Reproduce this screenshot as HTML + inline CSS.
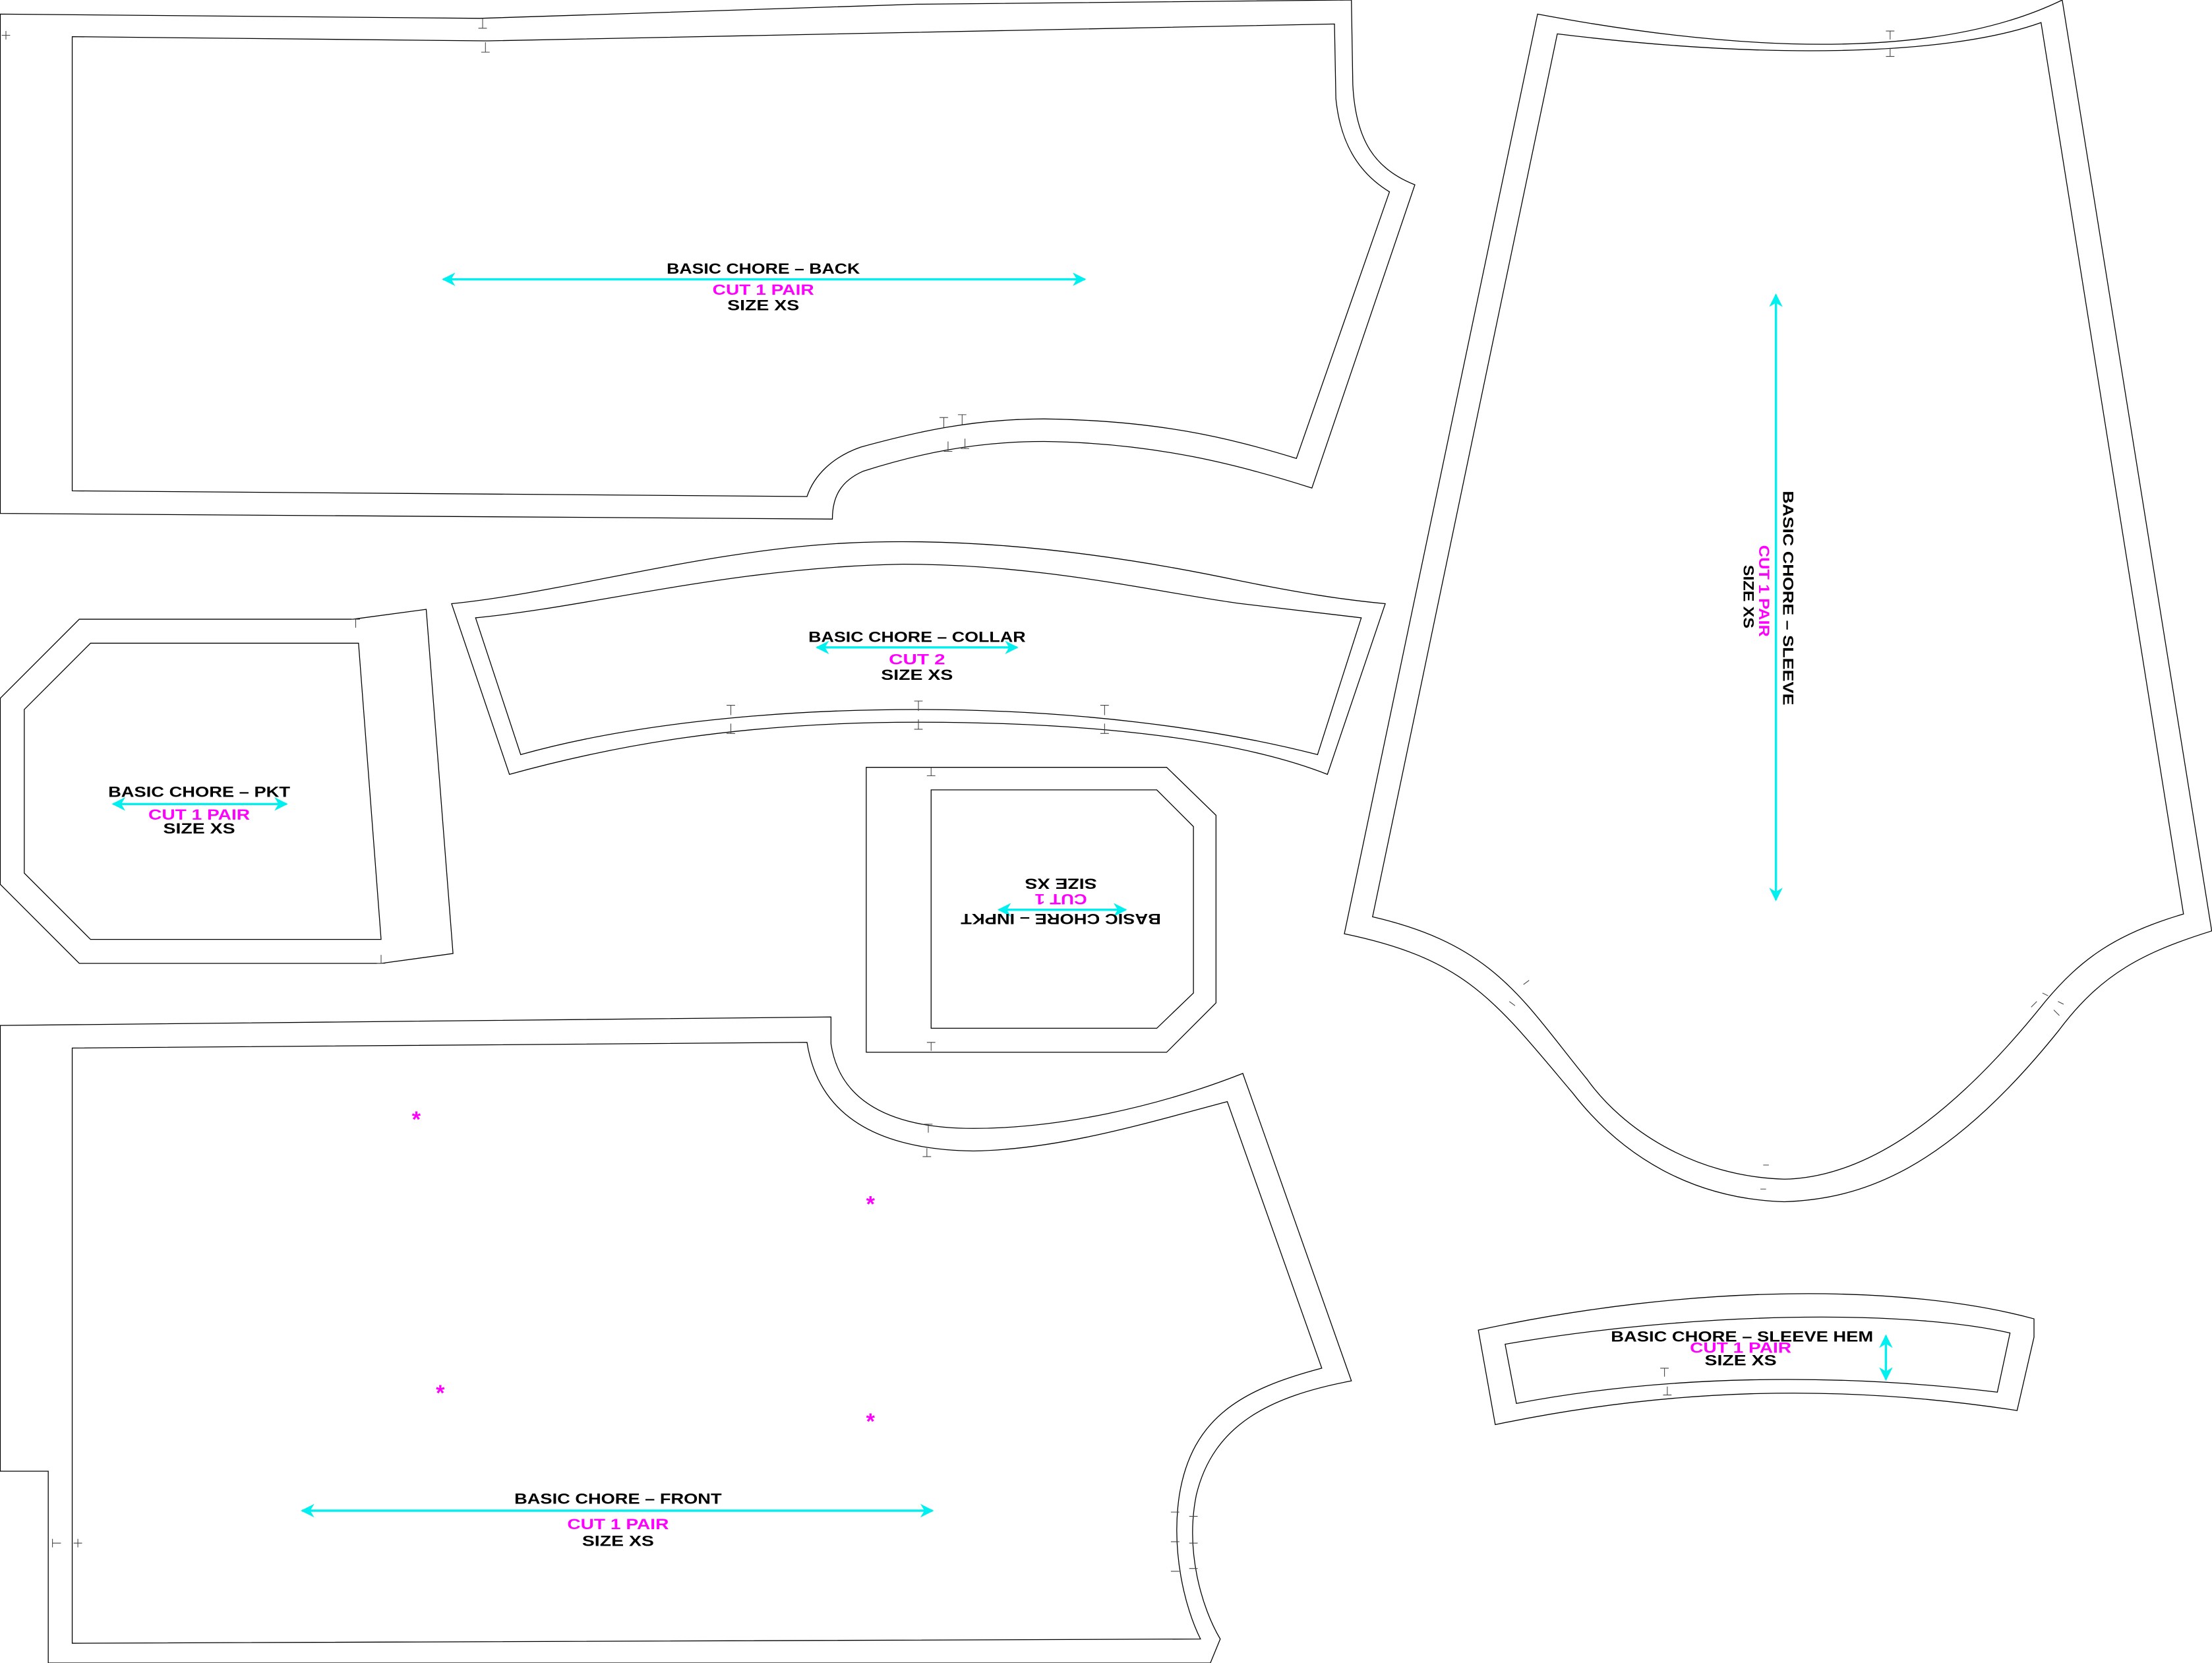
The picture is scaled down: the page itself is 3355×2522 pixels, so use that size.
<!DOCTYPE html>
<html><head><meta charset="utf-8"><style>
html,body{margin:0;padding:0;background:#fff;}
svg{display:block;}
text{font-family:"Liberation Sans",sans-serif;font-weight:bold;}
.t{fill:#000;font-size:10.5px;}
.m{fill:#f0f;font-size:10.5px;}
.c{fill:none;stroke:#000;stroke-width:0.6;}
.a{stroke:#00f0f0;stroke-width:1.6;fill:none;}
.n{stroke:#444;stroke-width:0.5;fill:none;}
</style></head><body>
<svg width="3355" height="2522" viewBox="0 0 1568 1179" xmlns="http://www.w3.org/2000/svg">
<defs>
<marker id="h" viewBox="0 0 10 10" refX="9" refY="5" markerWidth="6" markerHeight="6" orient="auto-start-reverse">
<path d="M0,0 L10,5 L0,10 L3,5 Z" fill="#00f0f0"/></marker>
</defs>
<!-- BACK -->
<path class="c" d="M0,10 L340,13 L650,3 L958,0 L959,60 C961,100 975,120 1003,131 L930,346 C880,330 820,314 740,313 C690,313 650,322 612,334 C596,341 590,352 590,368 L0,364 Z"/>
<path class="c" d="M51,26 L345,29 L946,17 L947,70 C950,100 962,122 985,136 L919,325 C870,310 820,298 740,297 C690,297 650,306 610,317 C590,324 577,337 572,352 L51,348 Z"/>
<!-- SLEEVE -->
<path class="c" d="M1090,10 C1250,40 1380,40 1462,0 L1568,660 C1520,675 1490,690 1460,730 C1380,830 1320,850 1265,852 C1200,850 1150,820 1115,775 C1060,710 1040,680 953,662 Z"/>
<path class="c" d="M1104,24 C1250,42 1380,40 1447,16 L1548,648 C1500,662 1475,680 1450,710 C1370,810 1310,835 1265,836 C1200,834 1150,800 1125,765 C1080,710 1060,670 973,650 Z"/>
<!-- COLLAR -->
<path class="c" d="M320,428 C400,420 500,390 600,385 C700,380 800,395 880,412 C920,420 950,425 982,428 L941,549 C880,525 780,512 650,512 C520,512 430,530 361,549 Z"/>
<path class="c" d="M337,438 C420,430 520,402 640,400 C740,400 820,420 880,428 L965,438 L934,535 C860,516 760,503 650,503 C540,503 440,515 369,535 Z"/>
<!-- PKT -->
<path class="c" d="M56,439 L250,439 L302,432 L321,676 L270,683 L56,683 L0,627 L0,495 Z"/>
<path class="c" d="M64,456 L254,456 L270,666 L64,666 L17,619 L17,503 Z"/>
<!-- INPKT -->
<path class="c" d="M614,544 L827,544 L862,578 L862,711 L827,746 L614,746 Z"/>
<path class="c" d="M660,560 L820,560 L846,586 L846,704 L820,729 L660,729 Z"/>
<!-- FRONT -->
<path class="c" d="M0,727 L589,721 L589,740 C595,780 630,800 690,800 C750,800 820,785 881,761 L958,979 C900,990 860,1010 848,1060 C840,1100 852,1140 865,1162 L858,1179 L34,1179 L34,1043 L0,1043 Z"/>
<path class="c" d="M51,743 L572,739 C580,790 620,815 690,816 C750,815 810,797 870,781 L937,970 C880,985 845,1005 836,1060 C830,1100 840,1140 851,1162 L51,1165 Z"/>
<!-- SLEEVE HEM -->
<path class="c" d="M1048,943 C1200,910 1350,910 1442,935 L1442,948 L1430,1000 C1300,980 1180,985 1060,1010 Z"/>
<path class="c" d="M1067,953 C1200,930 1350,928 1425,945 L1416,987 C1300,973 1180,975 1075,995 Z"/>
<!-- notches -->
<g class="n">
<path d="M342,13v7M339,20h6M344,30v7M341,37h6M1,25h6M4,22v6"/>
<path d="M669,296v7M666,296h6M682,294v7M679,294h6M672,313v7M669,320h6M684,311v7M681,318h6"/>
<path d="M1340,22v6M1337,22h6M1340,34v6M1337,40h6"/>
<path d="M518,500v7M515,500h6M651,497v7M648,497h6M783,500v7M780,500h6M518,513v7M515,520h6M651,510v7M648,517h6M783,513v7M780,520h6"/>
<path d="M252,439v6M249,439h6M270,677v6M267,683h6M660,544v6M657,550h6M660,739v6M657,739h6"/>
<path d="M658,797v6M655,797h6M657,814v6M654,820h6"/>
<path d="M37,1094h6M37,1091v6M52,1094h6M55,1091v6"/>
<path d="M830,1072h6M830,1093h6M830,1114h6M843,1075h6M843,1094h6M843,1112h6"/>
<path d="M1080,698l4,-3M1070,710l4,3M1250,826h4M1248,843h4M1440,714l4,-4M1448,704l4,2M1456,716l4,4M1463,712l-4,-2"/>
<path d="M1180,970v6M1177,970h6M1182,983v6M1179,989h6"/>
</g>
<!-- arrows -->
<line class="a" x1="314" y1="198" x2="769" y2="198" marker-start="url(#h)" marker-end="url(#h)"/>
<line class="a" x1="579" y1="459" x2="721" y2="459" marker-start="url(#h)" marker-end="url(#h)"/>
<line class="a" x1="80" y1="570" x2="203" y2="570" marker-start="url(#h)" marker-end="url(#h)"/>
<line class="a" x1="708" y1="645" x2="798" y2="645" marker-start="url(#h)" marker-end="url(#h)"/>
<line class="a" x1="214" y1="1071" x2="661" y2="1071" marker-start="url(#h)" marker-end="url(#h)"/>
<line class="a" x1="1259" y1="209" x2="1259" y2="638" marker-start="url(#h)" marker-end="url(#h)"/>
<line class="a" x1="1337" y1="947" x2="1337" y2="978" marker-start="url(#h)" marker-end="url(#h)"/>
<!-- texts -->
<g text-anchor="middle">
<text class="t" x="541" y="194" textLength="137" lengthAdjust="spacingAndGlyphs">BASIC CHORE – BACK</text>
<text class="m" x="541" y="209" textLength="72" lengthAdjust="spacingAndGlyphs">CUT 1 PAIR</text>
<text class="t" x="541" y="220" textLength="51" lengthAdjust="spacingAndGlyphs">SIZE XS</text>

<text class="t" x="650" y="455" textLength="154" lengthAdjust="spacingAndGlyphs">BASIC CHORE – COLLAR</text>
<text class="m" x="650" y="471" textLength="40" lengthAdjust="spacingAndGlyphs">CUT 2</text>
<text class="t" x="650" y="482" textLength="51" lengthAdjust="spacingAndGlyphs">SIZE XS</text>

<text class="t" x="141" y="565" textLength="129" lengthAdjust="spacingAndGlyphs">BASIC CHORE – PKT</text>
<text class="m" x="141" y="581" textLength="72" lengthAdjust="spacingAndGlyphs">CUT 1 PAIR</text>
<text class="t" x="141" y="591" textLength="51" lengthAdjust="spacingAndGlyphs">SIZE XS</text>

<text class="t" x="438" y="1066" textLength="147" lengthAdjust="spacingAndGlyphs">BASIC CHORE – FRONT</text>
<text class="m" x="438" y="1084" textLength="72" lengthAdjust="spacingAndGlyphs">CUT 1 PAIR</text>
<text class="t" x="438" y="1096" textLength="51" lengthAdjust="spacingAndGlyphs">SIZE XS</text>

<text class="t" x="1235" y="951" textLength="186" lengthAdjust="spacingAndGlyphs">BASIC CHORE – SLEEVE HEM</text>
<text class="m" x="1234" y="959" textLength="72" lengthAdjust="spacingAndGlyphs">CUT 1 PAIR</text>
<text class="t" x="1234" y="968" textLength="51" lengthAdjust="spacingAndGlyphs">SIZE XS</text>

<g transform="translate(752,648) rotate(180)">
<text class="t" x="0" y="0" textLength="142" lengthAdjust="spacingAndGlyphs">BASIC CHORE – INPKT</text>
</g>
<g transform="translate(752,634) rotate(180)">
<text class="m" x="0" y="0" textLength="37" lengthAdjust="spacingAndGlyphs">CUT 1</text>
</g>
<g transform="translate(752,623) rotate(180)">
<text class="t" x="0" y="0" textLength="51" lengthAdjust="spacingAndGlyphs">SIZE XS</text>
</g>

<g transform="translate(1264,424) rotate(90)">
<text class="t" x="0" y="0" textLength="152" lengthAdjust="spacingAndGlyphs">BASIC CHORE – SLEEVE</text>
</g>
<g transform="translate(1247,419) rotate(90)">
<text class="m" x="0" y="0" textLength="65" lengthAdjust="spacingAndGlyphs">CUT 1 PAIR</text>
</g>
<g transform="translate(1236,423) rotate(90)">
<text class="t" x="0" y="0" textLength="45" lengthAdjust="spacingAndGlyphs">SIZE XS</text>
</g>
</g>
<!-- asterisks -->
<g fill="#f0f" font-size="16" text-anchor="middle" font-family="Liberation Sans, sans-serif" font-weight="bold">
<text x="295" y="799">*</text>
<text x="617" y="859">*</text>
<text x="312" y="993">*</text>
<text x="617" y="1013">*</text>
</g>
</svg>
</body></html>
